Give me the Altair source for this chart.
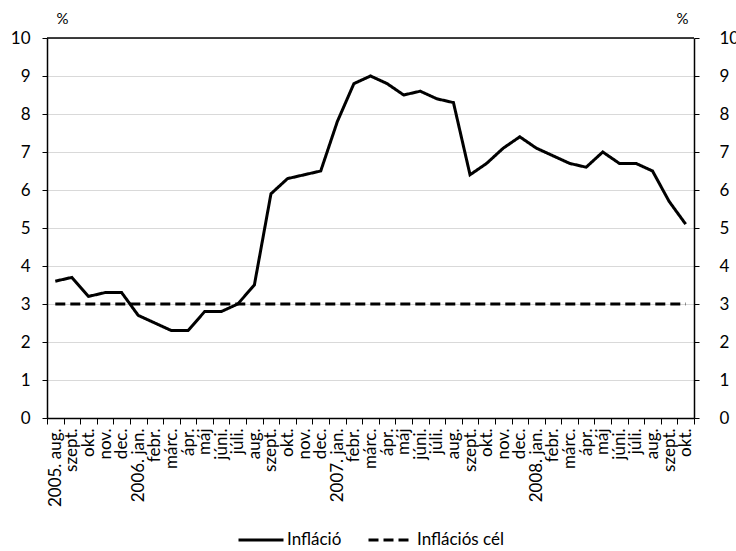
import altair as alt
import pandas as pd

# Monthly consumer price inflation (%), 2005 Aug - 2008 Oct
months = [
    "2005. aug.", "szept.", "okt.", "nov.", "dec.",
    "2006. jan.", "febr.", "márc.", "ápr.", "máj", "júni.", "júli.",
    "aug.", "szept.", "okt.", "nov.", "dec.",
    "2007. jan.", "febr.", "márc.", "ápr.", "máj", "júni.", "júli.",
    "aug.", "szept.", "okt.", "nov.", "dec.",
    "2008. jan.", "febr.", "márc.", "ápr.", "máj", "júni.", "júli.",
    "aug.", "szept.", "okt.",
]
inflation = [
    3.6, 3.7, 3.2, 3.3, 3.3,
    2.7, 2.5, 2.3, 2.3, 2.8, 2.8, 3.0,
    3.5, 5.9, 6.3, 6.4, 6.5,
    7.8, 8.8, 9.0, 8.8, 8.5, 8.6, 8.4,
    8.3, 6.4, 6.7, 7.1, 7.4,
    7.1, 6.9, 6.7, 6.6, 7.0, 6.7, 6.7,
    6.5, 5.7, 5.1,
]
target = 3.0  # inflation target, constant over the period

series_names = ["Infláció", "Inflációs cél"]
y_ticks = list(range(0, 11))

# month labels repeat, so each month gets a unique key for the ordinal axis
keys = [f"{i:02d}|{m}" for i, m in enumerate(months)]
rows = []
for k, v in zip(keys, inflation):
    rows.append({"key": k, "value": v, "series": series_names[0]})
for k in keys:
    rows.append({"key": k, "value": target, "series": series_names[1]})
df = pd.DataFrame(rows)

FONT = "Lato"
label_expr = "split(datum.label, '|')[1]"

x_enc = alt.X(
    "key:N",
    sort=keys,
    scale=alt.Scale(type="band", paddingInner=0, paddingOuter=0),
    axis=alt.Axis(
        title=None, labelAngle=-90, labelExpr=label_expr, labelOverlap=False,
        tickBand="extent", tickSize=6, tickColor="black", domainColor="black",
        domainWidth=1.5, labelFontSize=17, labelFont=FONT, labelColor="black",
        labelPadding=4, grid=False,
    ),
)
y_scale = alt.Scale(domain=[0, 10], nice=False)

lines = alt.Chart(df).mark_line(strokeWidth=3, color="black").encode(
    x=x_enc,
    y=alt.Y(
        "value:Q", scale=y_scale,
        axis=alt.Axis(
            orient="left", values=y_ticks, title="%", titleAngle=0,
            titleX=15, titleY=-12, titleAlign="center", titleBaseline="bottom",
            titleFont=FONT, titleFontSize=15, titleFontWeight="normal",
            labelFont=FONT, labelFontSize=17, labelColor="black", labelPadding=12,
            tickSize=5, tickColor="black", domainColor="black", domainWidth=1.5,
            gridColor="#d9d9d9", gridWidth=1.2,
        ),
    ),
    strokeDash=alt.StrokeDash(
        "series:N",
        scale=alt.Scale(domain=series_names, range=[[1, 0], [10, 5]]),
        legend=alt.Legend(
            title=None, orient="none", direction="horizontal",
            legendX=190, legendY=478, symbolType="stroke", symbolSize=2025,
            symbolStrokeColor="black", symbolStrokeWidth=3,
            labelFont=FONT, labelFontSize=17, labelColor="black",
            columnPadding=20, labelOffset=2,
        ),
    ),
)

top_rule = alt.Chart(pd.DataFrame({"value": [10]})).mark_rule(
    color="black", strokeWidth=1.5
).encode(
    y=alt.Y(
        "value:Q", scale=y_scale,
        axis=alt.Axis(
            orient="right", values=y_ticks, title="%", titleAngle=0,
            titleX=-12, titleY=-12, titleAlign="center", titleBaseline="bottom",
            titleFont=FONT, titleFontSize=15, titleFontWeight="normal",
            labelFont=FONT, labelFontSize=17, labelColor="black", labelPadding=20,
            tickSize=5, tickColor="black", domainColor="black", domainWidth=1.5,
            grid=False,
        ),
    ),
)

chart = (
    alt.layer(lines, top_rule)
    .resolve_axis(y="independent")
    .properties(
        width=647, height=380,
        autosize=alt.AutoSizeParams(type="none"),
        padding={"left": 47, "top": 38, "right": 42, "bottom": 133},
        background="white",
    )
    .configure_view(stroke=None)
)

chart.save("out.html", embed_options={"renderer": "svg", "actions": False})
